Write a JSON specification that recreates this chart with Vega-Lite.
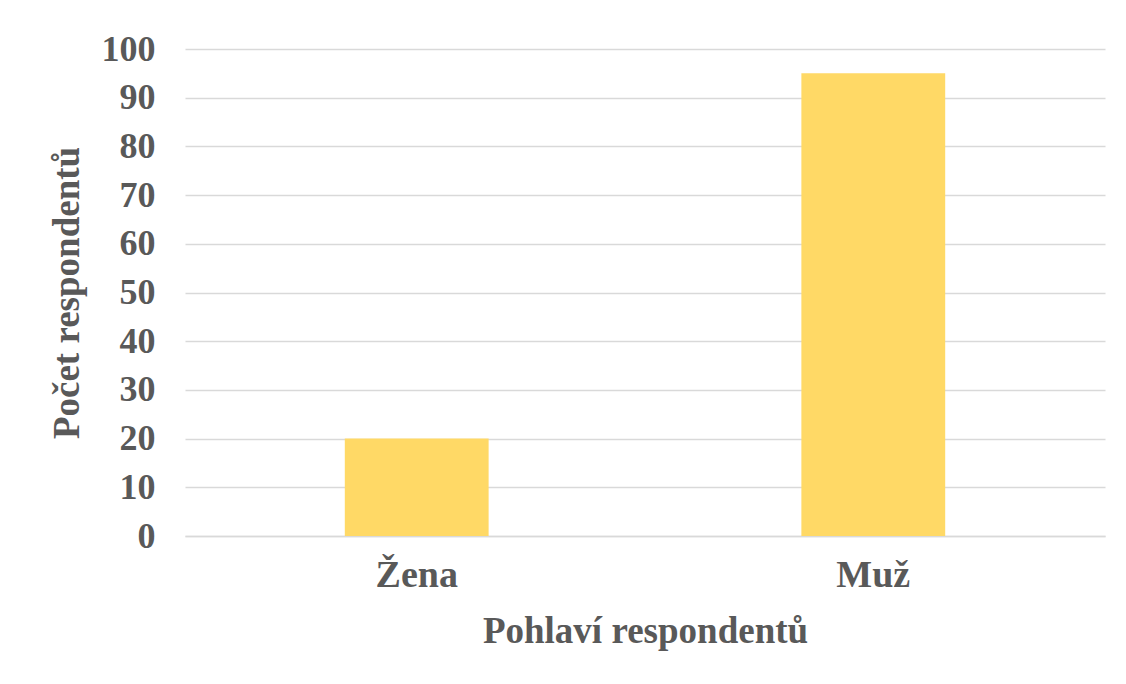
{
  "$schema": "https://vega.github.io/schema/vega-lite/v6.json",
  "width": 920,
  "height": 487,
  "autosize": {"type": "none"},
  "padding": {"left": 185, "top": 49, "right": 21, "bottom": 148},
  "background": "white",
  "data": {"values": [
    {"pohlavi": "Žena", "pocet": 20},
    {"pohlavi": "Muž", "pocet": 95}
  ]},
  "mark": {"type": "bar", "color": "#FFD966"},
  "encoding": {
    "x": {
      "field": "pohlavi", "type": "nominal", "sort": null,
      "scale": {"paddingInner": 0.685, "paddingOuter": 0.35},
      "axis": {
        "title": "Pohlaví respondentů", "labelAngle": 0, "ticks": false,
        "domain": true, "domainColor": "#d9d9d9", "domainWidth": 1.5,
        "labelFont": "Liberation Serif", "labelFontSize": 38, "labelFontWeight": "bold", "labelColor": "#595959",
        "labelPadding": 20,
        "titleFont": "Liberation Serif", "titleFontSize": 37, "titleFontWeight": "bold", "titleColor": "#595959",
        "titlePadding": 19
      }
    },
    "y": {
      "field": "pocet", "type": "quantitative",
      "scale": {"domain": [0, 100]},
      "axis": {
        "title": "Počet respondentů", "values": [0,10,20,30,40,50,60,70,80,90,100],
        "ticks": false, "domain": false,
        "grid": true, "gridColor": "#d9d9d9", "gridWidth": 1.5,
        "labelFont": "Liberation Serif", "labelFontSize": 36, "labelFontWeight": "bold", "labelColor": "#595959",
        "labelPadding": 30,
        "titleFont": "Liberation Serif", "titleFontSize": 37, "titleFontWeight": "bold", "titleColor": "#595959",
        "titlePadding": 15
      }
    }
  },
  "config": {"view": {"stroke": null}}
}
